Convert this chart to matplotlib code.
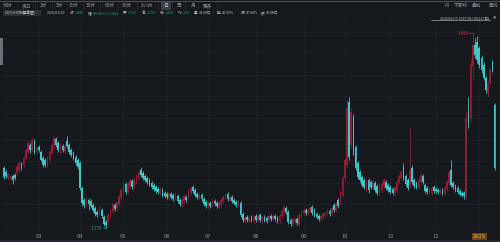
import numpy as np
import matplotlib.pyplot as plt
from matplotlib.patches import Rectangle
from matplotlib.lines import Line2D

plt.rcParams['font.family'] = ['Noto Sans CJK SC', 'DejaVu Sans']

# daily candles 2024/02/07 - 2025/01/10 (227 days)
opens = [
    2.00, 1.95, 1.87, 1.84, 1.89, 1.91, 1.93, 1.98, 2.06, 2.05,
    2.14, 2.23, 2.32, 2.25, 2.38, 2.23, 2.30, 2.23, 2.14, 2.12,
    2.05, 2.12, 2.21, 2.31, 2.41, 2.35, 2.23, 2.31, 2.24, 2.38,
    2.32, 2.25, 2.21, 2.16, 2.12, 2.07, 1.73, 1.56, 1.50, 1.56,
    1.55, 1.49, 1.45, 1.39, 1.38, 1.42, 1.32, 1.25, 1.25, 1.34,
    1.41, 1.49, 1.45, 1.50, 1.59, 1.67, 1.78, 1.67, 1.75, 1.82,
    1.75, 1.81, 1.87, 1.98, 1.93, 1.89, 1.87, 1.84, 1.80, 1.77,
    1.74, 1.71, 1.66, 1.70, 1.66, 1.64, 1.59, 1.64, 1.63, 1.59,
    1.62, 1.56, 1.49, 1.55, 1.60, 1.59, 1.66, 1.74, 1.70, 1.64,
    1.59, 1.63, 1.57, 1.53, 1.48, 1.52, 1.49, 1.55, 1.52, 1.46,
    1.50, 1.55, 1.59, 1.64, 1.56, 1.60, 1.56, 1.53, 1.49, 1.52,
    1.37, 1.27, 1.32, 1.27, 1.32, 1.27, 1.34, 1.28, 1.35, 1.27,
    1.32, 1.31, 1.28, 1.34, 1.30, 1.34, 1.31, 1.27, 1.34, 1.39,
    1.45, 1.39, 1.28, 1.23, 1.25, 1.30, 1.23, 1.34, 1.38, 1.42,
    1.38, 1.41, 1.46, 1.42, 1.37, 1.34, 1.30, 1.32, 1.35, 1.38,
    1.41, 1.38, 1.49, 1.42, 1.56, 1.52, 1.63, 1.87, 2.05, 2.92,
    2.32, 2.71, 2.30, 2.07, 1.95, 1.88, 1.84, 1.70, 1.84, 1.81,
    1.73, 1.80, 1.75, 1.66, 1.70, 1.75, 1.81, 1.77, 1.74, 1.71,
    1.66, 1.69, 1.81, 1.87, 2.00, 1.89, 1.84, 1.77, 2.00, 1.84,
    1.80, 1.74, 1.81, 1.89, 1.77, 1.73, 1.67, 1.66, 1.74, 1.71,
    1.70, 1.67, 1.70, 1.66, 1.71, 1.80, 1.98, 1.80, 1.75, 1.73,
    1.69, 1.66, 1.66, 1.62, 2.77, 2.70, 3.42, 3.71, 3.76, 3.67,
    3.53, 3.44, 3.26, 3.05, 3.19, 3.48, 2.88,
]
highs = [
    2.03, 1.98, 1.95, 1.91, 1.92, 1.93, 2.05, 2.10, 2.09, 2.17,
    2.28, 2.39, 2.35, 2.44, 2.41, 2.31, 2.32, 2.25, 2.17, 2.14,
    2.17, 2.25, 2.35, 2.45, 2.44, 2.38, 2.35, 2.34, 2.34, 2.45,
    2.35, 2.28, 2.24, 2.18, 2.14, 2.10, 1.75, 1.59, 1.60, 1.59,
    1.57, 1.52, 1.48, 1.42, 1.48, 1.45, 1.35, 1.28, 1.38, 1.45,
    1.53, 1.52, 1.55, 1.64, 1.73, 1.82, 1.81, 1.81, 1.87, 1.85,
    1.88, 1.92, 1.98, 2.02, 1.96, 1.92, 1.89, 1.87, 1.82, 1.80,
    1.77, 1.74, 1.74, 1.73, 1.69, 1.67, 1.69, 1.67, 1.66, 1.67,
    1.64, 1.59, 1.59, 1.64, 1.63, 1.71, 1.75, 1.77, 1.73, 1.67,
    1.66, 1.66, 1.60, 1.56, 1.55, 1.55, 1.57, 1.57, 1.55, 1.55,
    1.59, 1.63, 1.66, 1.67, 1.63, 1.63, 1.59, 1.56, 1.56, 1.55,
    1.39, 1.34, 1.35, 1.34, 1.35, 1.35, 1.37, 1.37, 1.38, 1.35,
    1.35, 1.34, 1.37, 1.37, 1.37, 1.37, 1.34, 1.37, 1.43, 1.49,
    1.48, 1.42, 1.31, 1.31, 1.32, 1.32, 1.38, 1.42, 1.45, 1.45,
    1.45, 1.48, 1.49, 1.45, 1.39, 1.37, 1.37, 1.39, 1.41, 1.43,
    1.43, 1.48, 1.52, 1.53, 1.59, 1.70, 1.89, 2.14, 2.95, 2.99,
    2.84, 2.75, 2.32, 2.10, 1.98, 1.91, 1.87, 1.87, 1.87, 1.84,
    1.84, 1.82, 1.78, 1.78, 1.81, 1.87, 1.84, 1.80, 1.77, 1.74,
    1.75, 1.84, 1.92, 1.98, 2.07, 1.92, 1.87, 2.56, 2.05, 1.87,
    1.82, 1.87, 1.93, 1.92, 1.80, 1.75, 1.74, 1.75, 1.77, 1.74,
    1.73, 1.73, 1.73, 1.75, 1.84, 1.98, 2.12, 1.82, 1.78, 1.75,
    1.71, 1.69, 1.69, 2.81, 2.99, 3.51, 3.88, 3.81, 3.84, 3.70,
    3.58, 3.48, 3.28, 3.21, 3.39, 3.51, 2.91,
]
lows = [
    1.85, 1.87, 1.84, 1.80, 1.78, 1.84, 1.91, 1.95, 1.98, 2.02,
    2.12, 2.20, 2.21, 2.23, 2.20, 2.20, 2.23, 2.10, 2.02, 2.02,
    2.02, 2.09, 2.18, 2.28, 2.30, 2.23, 2.20, 2.23, 2.21, 2.28,
    2.20, 2.16, 2.12, 2.05, 1.99, 1.70, 1.48, 1.45, 1.48, 1.42,
    1.45, 1.39, 1.34, 1.32, 1.35, 1.31, 1.20, 1.17, 1.23, 1.31,
    1.38, 1.41, 1.42, 1.48, 1.56, 1.64, 1.64, 1.64, 1.73, 1.71,
    1.73, 1.78, 1.84, 1.88, 1.84, 1.81, 1.78, 1.75, 1.71, 1.69,
    1.66, 1.64, 1.63, 1.60, 1.59, 1.57, 1.56, 1.57, 1.55, 1.56,
    1.52, 1.48, 1.46, 1.52, 1.53, 1.56, 1.63, 1.66, 1.60, 1.57,
    1.56, 1.55, 1.48, 1.45, 1.45, 1.45, 1.46, 1.48, 1.45, 1.43,
    1.48, 1.52, 1.56, 1.55, 1.53, 1.52, 1.49, 1.46, 1.46, 1.32,
    1.25, 1.24, 1.25, 1.24, 1.25, 1.24, 1.25, 1.25, 1.25, 1.24,
    1.25, 1.24, 1.25, 1.27, 1.27, 1.27, 1.24, 1.24, 1.31, 1.37,
    1.37, 1.23, 1.20, 1.20, 1.23, 1.21, 1.20, 1.31, 1.35, 1.35,
    1.35, 1.38, 1.35, 1.32, 1.30, 1.27, 1.27, 1.30, 1.32, 1.35,
    1.34, 1.35, 1.39, 1.39, 1.45, 1.49, 1.60, 1.84, 2.00, 2.12,
    2.28, 2.18, 1.98, 1.85, 1.81, 1.74, 1.71, 1.67, 1.66, 1.71,
    1.70, 1.67, 1.63, 1.63, 1.67, 1.73, 1.70, 1.67, 1.64, 1.63,
    1.63, 1.66, 1.78, 1.84, 1.84, 1.75, 1.70, 1.73, 1.78, 1.73,
    1.71, 1.71, 1.78, 1.78, 1.66, 1.64, 1.64, 1.63, 1.66, 1.66,
    1.64, 1.64, 1.63, 1.63, 1.69, 1.77, 1.74, 1.71, 1.67, 1.64,
    1.62, 1.60, 1.57, 1.57, 2.56, 2.64, 3.23, 3.53, 3.46, 3.39,
    3.32, 3.23, 3.05, 3.00, 3.16, 3.34, 1.98,
]
closes = [
    1.88, 1.89, 1.92, 1.89, 1.84, 1.87, 2.02, 2.07, 2.00, 2.14,
    2.25, 2.35, 2.25, 2.39, 2.23, 2.28, 2.25, 2.12, 2.05, 2.05,
    2.14, 2.23, 2.32, 2.42, 2.32, 2.25, 2.32, 2.25, 2.31, 2.31,
    2.23, 2.18, 2.14, 2.07, 2.02, 1.73, 1.52, 1.49, 1.57, 1.50,
    1.48, 1.42, 1.37, 1.35, 1.45, 1.34, 1.23, 1.21, 1.35, 1.42,
    1.50, 1.43, 1.52, 1.62, 1.70, 1.80, 1.67, 1.78, 1.84, 1.74,
    1.84, 1.89, 1.95, 1.91, 1.87, 1.84, 1.81, 1.78, 1.74, 1.71,
    1.69, 1.67, 1.71, 1.63, 1.62, 1.60, 1.66, 1.60, 1.57, 1.64,
    1.55, 1.50, 1.56, 1.62, 1.56, 1.69, 1.73, 1.69, 1.63, 1.60,
    1.63, 1.57, 1.50, 1.48, 1.52, 1.48, 1.55, 1.50, 1.48, 1.52,
    1.56, 1.60, 1.63, 1.57, 1.60, 1.55, 1.52, 1.49, 1.53, 1.35,
    1.28, 1.31, 1.28, 1.31, 1.28, 1.32, 1.28, 1.34, 1.28, 1.32,
    1.28, 1.27, 1.34, 1.30, 1.34, 1.30, 1.27, 1.34, 1.41, 1.46,
    1.39, 1.25, 1.23, 1.28, 1.30, 1.24, 1.35, 1.39, 1.42, 1.38,
    1.42, 1.45, 1.38, 1.35, 1.32, 1.30, 1.34, 1.37, 1.38, 1.41,
    1.37, 1.45, 1.42, 1.50, 1.48, 1.67, 1.87, 2.12, 2.84, 2.16,
    2.78, 2.23, 2.00, 1.88, 1.84, 1.77, 1.74, 1.84, 1.70, 1.74,
    1.81, 1.70, 1.66, 1.75, 1.78, 1.84, 1.73, 1.70, 1.67, 1.66,
    1.73, 1.81, 1.89, 1.95, 1.87, 1.78, 1.73, 1.98, 1.81, 1.75,
    1.74, 1.84, 1.91, 1.81, 1.69, 1.67, 1.71, 1.73, 1.69, 1.69,
    1.67, 1.70, 1.66, 1.73, 1.81, 1.95, 1.77, 1.74, 1.70, 1.67,
    1.64, 1.63, 1.62, 2.70, 2.63, 3.44, 3.71, 3.58, 3.51, 3.44,
    3.37, 3.26, 3.09, 3.19, 3.37, 3.37, 2.00,
]

# first trading day of each month
month_starts = [16, 35, 55, 75, 94, 116, 138, 157, 178, 199, 219]
month_labels = ["03", "04", "05", "06", "07", "08", "09", "10", "11", "12", "2025"]

toolbar_items = ["分时", "多日", "1分", "5分", "15分", "30分", "60分", "90分", "2小时", "日", "周", "月", "更多"]
toolbar_x = [8, 26, 43, 60, 74, 91, 110, 127, 147, 166, 179, 193, 208]
toolbar_sep = [17, 35, 52, 67, 83, 100, 118, 137, 158, 172, 185, 198, 217]

bg = "#15181d"
up_color = "#941b31"
down_color = "#3ec6c8"
grid_color = "#20242b"
text_gray = "#8d929a"
text_light = "#c3c7cd"
val_green = "#2ea66b"

W, H = 500, 242

def fx(x):
    return x / W

def fy(y):
    return 1 - y / H

fig = plt.figure(figsize=(W / 100, H / 100), dpi=100, facecolor=bg)

# chart area
ax = fig.add_axes([fx(3), (H - 231) / H, 495 / W, 211 / H], facecolor=bg)
o = np.array(opens)
h = np.array(highs)
l = np.array(lows)
c = np.array(closes)
idx = np.arange(len(c))
colors = np.where(c >= o, up_color, down_color)

ax.vlines(idx, l, h, colors=colors, linewidth=0.6, zorder=2)
ax.bar(idx, np.maximum(np.abs(c - o), 0.008), bottom=np.minimum(o, c),
       width=0.78, color=colors, linewidth=0, zorder=3)

ax.set_xlim(-0.46, 227.6)
ax.set_ylim(1.129, 4.062)
ax.set_yticks(np.arange(1.2, 4.01, 0.3))
ax.set_xticks(month_starts)
ax.set_xticklabels(month_labels)
ax.tick_params(axis='y', left=False, labelleft=False)
ax.tick_params(axis='x', length=0, pad=2, labelsize=4.2, labelcolor=text_gray)
last_lbl = ax.get_xticklabels()[-1]
last_lbl.set_color("#e6a14a")
last_lbl.set_bbox(dict(facecolor="#6b4518", edgecolor="none", pad=0.6))
ax.grid(True, color=grid_color, linewidth=0.5, zorder=0)
for s in ax.spines.values():
    s.set_visible(False)

# max / min markers
imax = int(np.argmax(h))
ax.plot([imax - 1.6, imax], [h[imax], h[imax]], color="#d2283c", lw=0.5)
ax.text(imax - 1.8, h[imax], f"{h[imax]:.3f}", ha='right', va='center',
        color="#d2283c", fontsize=3.2)
imin = int(np.argmin(l))
ax.plot([imin - 1.6, imin], [l[imin], l[imin]], color=val_green, lw=0.5)
ax.text(imin - 1.8, l[imin], f"{l[imin]:.3f}", ha='right', va='center',
        color=val_green, fontsize=3.2)

# top border and toolbar
fig.add_artist(Line2D([0, 1], [fy(0.5), fy(0.5)], transform=fig.transFigure,
                      color="#4a4e55", lw=0.8))
fig.add_artist(Rectangle((fx(161), fy(9.5)), 10 / W, 8 / H, transform=fig.transFigure,
                         facecolor="#3a3f47", edgecolor="none"))
for t, x in zip(toolbar_items, toolbar_x):
    fig.text(fx(x), fy(5.5), t, ha='center', va='center', fontsize=3.4,
             color=text_light if t == "日" else text_gray)
for x in toolbar_sep:
    fig.add_artist(Line2D([fx(x), fx(x)], [fy(2), fy(9)], transform=fig.transFigure,
                          color="#2c3037", lw=0.5))

for t, x in zip(["F9", "不复权", "叠加", "画线"], [447, 461, 477, 493]):
    fig.text(fx(x), fy(5.5), t, ha='center', va='center', fontsize=3.4, color=text_gray)

# quote line
qs = 2.6
fig.add_artist(Rectangle((fx(3), fy(16)), 38 / W, 6 / H, transform=fig.transFigure,
                         facecolor="#2a2e35", edgecolor="none"))
fig.text(fx(5), fy(13), "2013.HK[微盟集团]", ha='left', va='center', fontsize=qs, color=text_light)
fig.text(fx(47), fy(13), "2025/01/10", ha='left', va='center', fontsize=qs, color=text_light)
quote = [
    (70, "收", text_light), (74.5, "1.880", val_green),
    (88, "幅", text_light), (92.5, "-40.88%(-1.300)", val_green),
    (123, "开", text_light), (127.5, "2.710", val_green),
    (142, "高", text_light), (146.5, "2.710", val_green),
    (160, "低", text_light), (164.5, "1.850", val_green),
    (178, "均", text_light), (182.5, "2.19", val_green),
    (194, "量", text_light), (198.5, "14.60亿", text_light),
    (217, "换", text_light), (221.5, "43.33%", text_light),
    (241, "振", text_light), (245.5, "27.04%", text_light),
    (261, "额", text_light), (265.5, "32.08亿", text_light),
]
for x, t, col in quote:
    fig.text(fx(x), fy(13), t, ha='left', va='center', fontsize=qs, color=col)

fig.text(fx(490), fy(18), "2024/02/07-2025/01/10(227日)", ha='right', va='center',
         fontsize=qs, color=text_light)
fig.add_artist(Line2D([fx(431), fx(490)], [fy(20), fy(20)], transform=fig.transFigure,
                      color=text_light, lw=0.4))
fig.text(fx(495), fy(18), "▼", ha='center', va='center', fontsize=3, color=text_gray,
         family=['DejaVu Sans'])

# left scroll strip and bottom bar
fig.add_artist(Rectangle((0, fy(65)), 3 / W, 27 / H, transform=fig.transFigure,
                         facecolor="#6c7078", edgecolor="none"))
fig.add_artist(Rectangle((0, 0), 1, 2 / H, transform=fig.transFigure,
                         facecolor="#23272e", edgecolor="none"))

fig.savefig("out.png", dpi=100, facecolor=bg)
